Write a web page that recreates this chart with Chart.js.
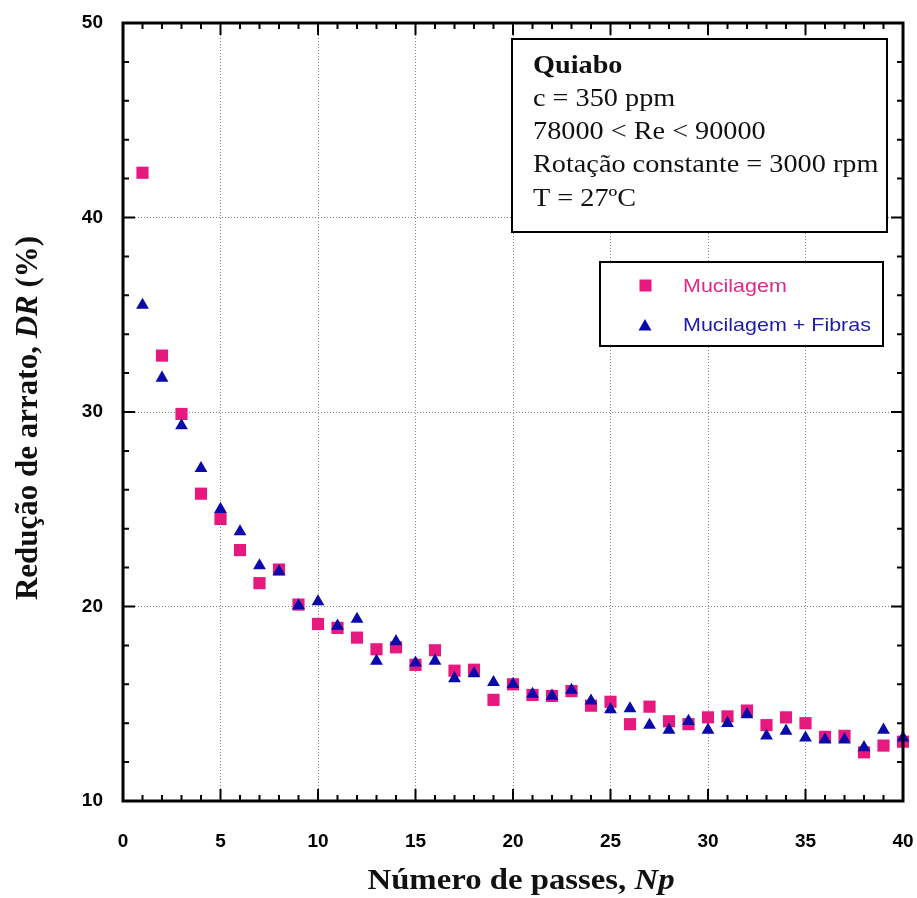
<!DOCTYPE html>
<html>
<head>
<meta charset="utf-8">
<script src="https://cdn.jsdelivr.net/npm/chart.js@4.4.1/dist/chart.umd.min.js"></script>
<style>
  body { margin: 0; background: #fff; }
  #wrap { position: relative; width: 917px; height: 898px; }
</style>
</head>
<body>
<div id="wrap"><canvas id="myChart"></canvas></div>
<script>
// number of passes (x) and drag reduction DR (%) for each series
var passes = [1,2,3,4,5,6,7,8,9,10,11,12,13,14,15,16,17,18,19,20,
              21,22,23,24,25,26,27,28,29,30,31,32,33,34,35,36,37,38,39,40];
var mucilagem = [42.3,32.9,29.9,25.8,24.5,22.9,21.2,21.9,20.1,19.1,
                 18.9,18.4,17.8,17.9,17.0,17.75,16.7,16.75,15.2,16.0,
                 15.45,15.4,15.65,14.9,15.1,13.95,14.85,14.1,13.95,14.3,
                 14.35,14.65,13.9,14.3,14.0,13.3,13.35,12.5,12.85,13.05];
var mucilagemFibras = [35.5,31.75,29.3,27.1,25.0,23.85,22.1,21.8,20.05,20.25,
                       19.0,19.35,17.2,18.2,17.1,17.2,16.3,16.55,16.1,16.0,
                       15.5,15.4,15.7,15.15,14.7,14.75,13.9,13.65,14.1,13.65,
                       14.0,14.45,13.35,13.6,13.25,13.15,13.15,12.75,13.65,13.25];
var seriesNames = ['Mucilagem', 'Mucilagem + Fibras'];
var xRange = [0, 40];
var yRange = [10, 50];
var infoLines = ['Quiabo', 'c = 350 ppm', '78000 < Re < 90000', 'Rotação constante = 3000 rpm', 'T = 27ºC'];

var pink = '#E6197F';
var blue = '#0A0AAA';
var SX = 1.13; // the original figure is slightly stretched horizontally

function toPoints(ys) {
  return passes.map(function (x, i) { return { x: x, y: ys[i] }; });
}

// draw text made of several font parts, horizontally scaled
function richText(c, parts, x, y, scale, align) {
  var total = 0;
  parts.forEach(function (p) { c.font = p.f; total += c.measureText(p.t).width; });
  var start = align === 'center' ? -total / 2 : 0;
  c.save();
  c.translate(x, y);
  c.scale(scale, 1);
  c.textAlign = 'left';
  var pos = start;
  parts.forEach(function (p) {
    c.font = p.f;
    c.fillText(p.t, pos, 0);
    pos += c.measureText(p.t).width;
  });
  c.restore();
}

var extras = {
  id: 'extras',
  afterDatasetsDraw: function (chart) {
    var c = chart.ctx, a = chart.chartArea;
    var xs = chart.scales.x, ys = chart.scales.y;
    c.save();
    c.strokeStyle = '#000';
    // inward tick marks on all four sides
    c.lineWidth = 2;
    c.beginPath();
    for (var v = xRange[0]; v <= xRange[1]; v++) {
      var px = xs.getPixelForValue(v);
      var len = v % 5 === 0 ? 12 : 6;
      c.moveTo(px, a.bottom); c.lineTo(px, a.bottom - len);
      c.moveTo(px, a.top); c.lineTo(px, a.top + len);
    }
    for (var w = yRange[0]; w <= yRange[1]; w += 2) {
      var py = ys.getPixelForValue(w);
      var l2 = w % 10 === 0 ? 12 : 6;
      c.moveTo(a.left, py); c.lineTo(a.left + l2, py);
      c.moveTo(a.right, py); c.lineTo(a.right - l2, py);
    }
    c.stroke();
    // frame
    c.lineWidth = 3;
    c.strokeRect(a.left, a.top, a.right - a.left, a.bottom - a.top);

    // info box
    c.lineWidth = 2;
    c.fillStyle = '#fff';
    c.fillRect(512, 39, 375, 193);
    c.strokeRect(512, 39, 375, 193);
    c.fillStyle = '#111';
    c.textBaseline = 'alphabetic';
    var base = [73, 106, 139, 172, 206];
    infoLines.forEach(function (t, i) {
      var f = (i === 0 ? 'bold ' : '') + '25px "Liberation Serif", "Times New Roman", serif';
      richText(c, [{ t: t, f: f }], 533, base[i], SX, 'left');
    });

    // legend box
    c.fillStyle = '#fff';
    c.fillRect(600, 262, 283, 84);
    c.strokeRect(600, 262, 283, 84);
    var ds = chart.data.datasets;
    c.fillStyle = ds[0].backgroundColor;
    c.fillRect(639.5, 279.5, 12, 12);
    c.fillStyle = ds[1].backgroundColor;
    c.beginPath();
    c.moveTo(645, 319); c.lineTo(651.5, 330.5); c.lineTo(638.5, 330.5); c.closePath();
    c.fill();
    var lf = '19px "Liberation Sans", Arial, sans-serif';
    c.fillStyle = '#E0288A';
    richText(c, [{ t: ds[0].label, f: lf }], 683, 292, SX, 'left');
    c.fillStyle = '#1C1CA8';
    richText(c, [{ t: ds[1].label, f: lf }], 683, 331, SX, 'left');

    // axis titles
    c.fillStyle = '#111';
    var tf = 'bold 29px "Liberation Serif", "Times New Roman", serif';
    var tfi = 'italic bold 29px "Liberation Serif", "Times New Roman", serif';
    richText(c, [{ t: 'Número de passes, ', f: tf }, { t: 'Np', f: tfi }],
             (a.left + a.right) / 2 + 8, 889, SX, 'center');
    var yf = 'bold 31px "Liberation Serif", "Times New Roman", serif';
    var yfi = 'italic bold 31px "Liberation Serif", "Times New Roman", serif';
    c.save();
    c.translate(29, (a.top + a.bottom) / 2 + 6);
    c.rotate(-Math.PI / 2);
    c.textBaseline = 'middle';
    richText(c, [{ t: 'Redução de arrato, ', f: yf }, { t: 'DR', f: yfi }, { t: ' (%)', f: yf }],
             0, 0, 1, 'center');
    c.restore();
    c.restore();
  }
};

var tickFont = { family: '"Liberation Sans", Arial, sans-serif', size: 19, weight: 'bold' };

function gridColor(range) {
  return function (c) {
    return c.tick && c.tick.value > range[0] && c.tick.value < range[1] ? '#8a8a8a' : 'rgba(0,0,0,0)';
  };
}

var ctx = document.getElementById('myChart').getContext('2d');
var myChart = new Chart(ctx, {
  type: 'scatter',
  data: {
    datasets: [{
      label: seriesNames[0],
      data: toPoints(mucilagem),
      pointStyle: 'rect',
      pointRadius: 8.6,
      backgroundColor: pink,
      borderColor: pink,
      borderWidth: 0,
      clip: false,
      order: 1
    }, {
      label: seriesNames[1],
      data: toPoints(mucilagemFibras),
      pointStyle: 'triangle',
      pointRadius: 7.4,
      backgroundColor: blue,
      borderColor: blue,
      borderWidth: 0,
      clip: false,
      order: 0
    }]
  },
  options: {
    responsive: true,
    maintainAspectRatio: false,
    animation: false,
    layout: { padding: { top: 23, right: 14, left: 0, bottom: 0 } },
    plugins: { legend: { display: false }, tooltip: { enabled: false } },
    scales: {
      x: {
        type: 'linear', min: xRange[0], max: xRange[1],
        afterFit: function (s) { s.height = 97; },
        ticks: { stepSize: 5, padding: 0, color: '#000', font: tickFont, maxRotation: 0 },
        grid: { drawTicks: true, tickLength: 29, tickColor: 'rgba(0,0,0,0)', lineWidth: 1, color: gridColor(xRange) },
        border: { display: false, dash: [1, 2] }
      },
      y: {
        type: 'linear', min: yRange[0], max: yRange[1],
        afterFit: function (s) { s.width = 123; },
        ticks: { stepSize: 10, padding: 0, color: '#000', font: tickFont },
        grid: { drawTicks: true, tickLength: 20, tickColor: 'rgba(0,0,0,0)', lineWidth: 1, color: gridColor(yRange) },
        border: { display: false, dash: [1, 2] }
      }
    }
  },
  plugins: [extras]
});
</script>
</body>
</html>
